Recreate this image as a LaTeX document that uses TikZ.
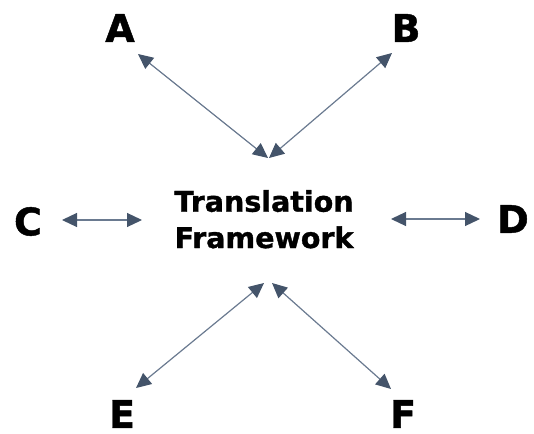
\documentclass[tikz,border=0pt]{standalone}
\usepackage{fontspec}
\setmainfont{DejaVu Sans}[BoldFeatures={FakeBold=1.2}]
\usetikzlibrary{arrows.meta}
\definecolor{arr}{HTML}{44546A}
\definecolor{ln}{HTML}{6A7A90}
\tikzset{
  lbl/.style={font=\fontsize{38}{38}\bfseries\selectfont, inner sep=0pt, anchor=center},
  ctr/.style={font=\fontsize{28.5}{36.5}\bfseries\selectfont, inner sep=0pt, anchor=base},
  link/.style={draw=ln, line width=1.2pt, {Triangle[length=15pt,width=14pt,color=arr]}-{Triangle[length=15pt,width=14pt,color=arr]}}
}
\begin{document}
\begin{tikzpicture}[x=1pt,y=-1pt]
\useasboundingbox (0,0) rectangle (534,433);
\node[lbl] (A) at (120,28) {A};
\node[lbl] (B) at (406,28) {B};
\node[lbl] (C) at (28,221.5) {C};
\node[lbl] (D) at (513,219) {D};
\node[lbl] (E) at (122,414) {E};
\node[lbl] (F) at (403,414) {F};
\node[ctr] (T1) at (264,211.7) {Translation};
\node[ctr] (T2) at (264,248) {Framework};
\coordinate (a1) at (138,54); \coordinate (a2) at (268,158);
\coordinate (b1) at (392,53); \coordinate (b2) at (269,158);
\coordinate (c1) at (62,220); \coordinate (c2) at (142,220);
\coordinate (d1) at (391,219); \coordinate (d2) at (480,219);
\coordinate (e1) at (136,388); \coordinate (e2) at (264,283);
\coordinate (f1) at (391,389); \coordinate (f2) at (272,283);
\draw[link] (a1) -- (a2);
\draw[link] (b1) -- (b2);
\draw[link] (c1) -- (c2);
\draw[link] (d1) -- (d2);
\draw[link] (e1) -- (e2);
\draw[link] (f1) -- (f2);
\end{tikzpicture}
\end{document}
